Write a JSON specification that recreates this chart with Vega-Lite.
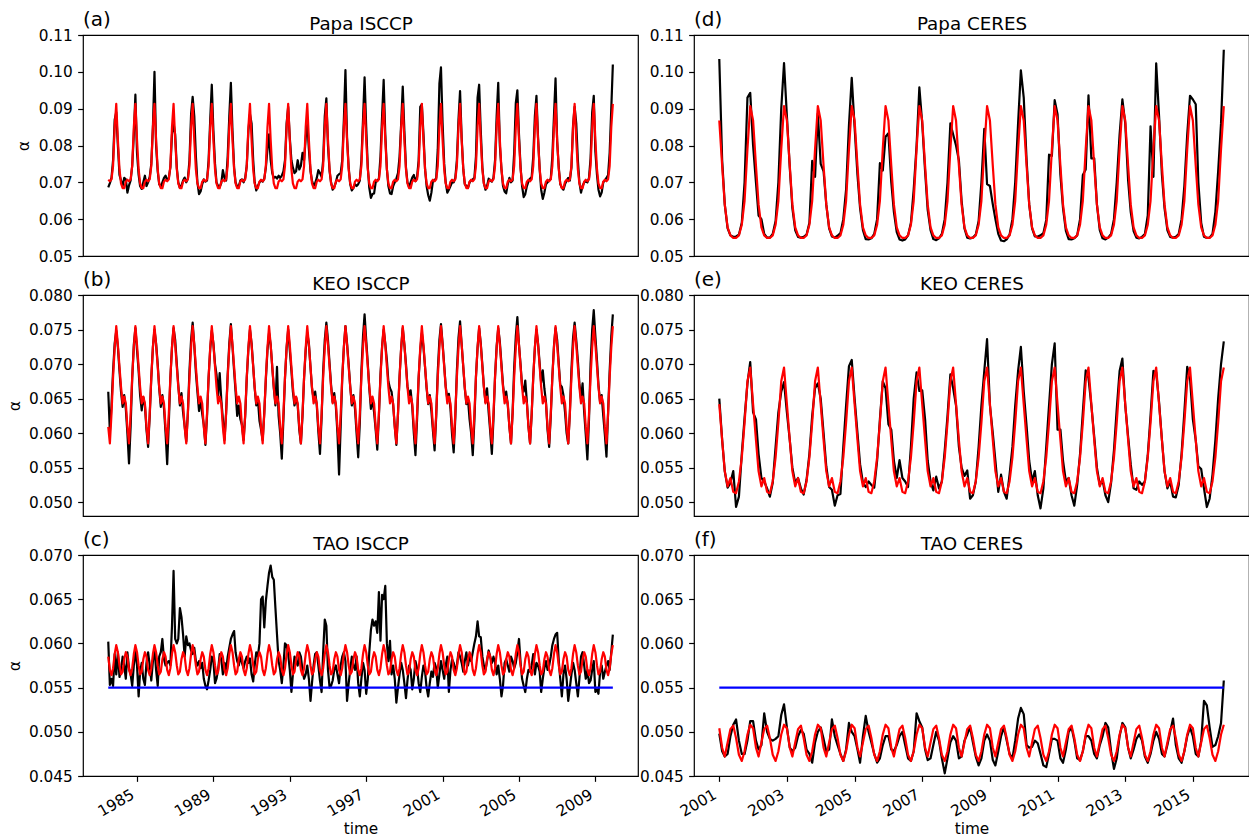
{"$schema":"https://vega.github.io/schema/vega-lite/v6.json","padding":{"left":6,"top":8,"right":0,"bottom":0},
"datasets":{
"isccp":[
{"t":"1983-07","a":0.0686,"b":0.0660,"c":0.0602,"A":0.0707,"B":0.0609,"C":0.0585},
{"t":"1983-08","a":0.0698,"b":0.0602,"c":0.0553,"A":0.0703,"B":0.0585,"C":0.0570},
{"t":"1983-09","a":0.0712,"b":0.0640,"c":0.0560,"A":0.0708,"B":0.0628,"C":0.0564},
{"t":"1983-10","a":0.0760,"b":0.0690,"c":0.0552,"A":0.0745,"B":0.0681,"C":0.0572},
{"t":"1983-11","a":0.0870,"b":0.0730,"c":0.0588,"A":0.0850,"B":0.0724,"C":0.0588},
{"t":"1983-12","a":0.0890,"b":0.0748,"c":0.0565,"A":0.0913,"B":0.0755,"C":0.0598},
{"t":"1984-01","a":0.0800,"b":0.0725,"c":0.0590,"A":0.0815,"B":0.0728,"C":0.0590},
{"t":"1984-02","a":0.0720,"b":0.0690,"c":0.0562,"A":0.0735,"B":0.0696,"C":0.0575},
{"t":"1984-03","a":0.0705,"b":0.0660,"c":0.0570,"A":0.0697,"B":0.0667,"C":0.0565},
{"t":"1984-04","a":0.0690,"b":0.0638,"c":0.0585,"A":0.0684,"B":0.0643,"C":0.0568},
{"t":"1984-05","a":0.0712,"b":0.0655,"c":0.0575,"A":0.0684,"B":0.0653,"C":0.0582},
{"t":"1984-06","a":0.0708,"b":0.0635,"c":0.0560,"A":0.0702,"B":0.0643,"C":0.0590},
{"t":"1984-07","a":0.0672,"b":0.0600,"c":0.0590,"A":0.0707,"B":0.0609,"C":0.0585},
{"t":"1984-08","a":0.0692,"b":0.0556,"c":0.0572,"A":0.0703,"B":0.0585,"C":0.0570},
{"t":"1984-09","a":0.0705,"b":0.0610,"c":0.0565,"A":0.0708,"B":0.0628,"C":0.0564},
{"t":"1984-10","a":0.0745,"b":0.0680,"c":0.0552,"A":0.0745,"B":0.0681,"C":0.0572},
{"t":"1984-11","a":0.0830,"b":0.0728,"c":0.0575,"A":0.0850,"B":0.0724,"C":0.0588},
{"t":"1984-12","a":0.0938,"b":0.0752,"c":0.0592,"A":0.0913,"B":0.0755,"C":0.0598},
{"t":"1985-01","a":0.0780,"b":0.0720,"c":0.0575,"A":0.0815,"B":0.0728,"C":0.0590},
{"t":"1985-02","a":0.0720,"b":0.0690,"c":0.0540,"A":0.0735,"B":0.0696,"C":0.0575},
{"t":"1985-03","a":0.0690,"b":0.0655,"c":0.0568,"A":0.0697,"B":0.0667,"C":0.0565},
{"t":"1985-04","a":0.0682,"b":0.0633,"c":0.0578,"A":0.0684,"B":0.0643,"C":0.0568},
{"t":"1985-05","a":0.0700,"b":0.0652,"c":0.0560,"A":0.0684,"B":0.0653,"C":0.0582},
{"t":"1985-06","a":0.0718,"b":0.0640,"c":0.0553,"A":0.0702,"B":0.0643,"C":0.0590},
{"t":"1985-07","a":0.0690,"b":0.0605,"c":0.0578,"A":0.0707,"B":0.0609,"C":0.0585},
{"t":"1985-08","a":0.0700,"b":0.0580,"c":0.0590,"A":0.0703,"B":0.0585,"C":0.0570},
{"t":"1985-09","a":0.0715,"b":0.0625,"c":0.0575,"A":0.0708,"B":0.0628,"C":0.0564},
{"t":"1985-10","a":0.0750,"b":0.0680,"c":0.0558,"A":0.0745,"B":0.0681,"C":0.0572},
{"t":"1985-11","a":0.0850,"b":0.0725,"c":0.0580,"A":0.0850,"B":0.0724,"C":0.0588},
{"t":"1985-12","a":0.1000,"b":0.0750,"c":0.0595,"A":0.0913,"B":0.0755,"C":0.0598},
{"t":"1986-01","a":0.0800,"b":0.0730,"c":0.0570,"A":0.0815,"B":0.0728,"C":0.0590},
{"t":"1986-02","a":0.0730,"b":0.0700,"c":0.0552,"A":0.0735,"B":0.0696,"C":0.0575},
{"t":"1986-03","a":0.0695,"b":0.0665,"c":0.0585,"A":0.0697,"B":0.0667,"C":0.0565},
{"t":"1986-04","a":0.0688,"b":0.0638,"c":0.0590,"A":0.0684,"B":0.0643,"C":0.0568},
{"t":"1986-05","a":0.0700,"b":0.0655,"c":0.0605,"A":0.0684,"B":0.0653,"C":0.0582},
{"t":"1986-06","a":0.0712,"b":0.0636,"c":0.0582,"A":0.0702,"B":0.0643,"C":0.0590},
{"t":"1986-07","a":0.0718,"b":0.0600,"c":0.0575,"A":0.0707,"B":0.0609,"C":0.0585},
{"t":"1986-08","a":0.0705,"b":0.0555,"c":0.0578,"A":0.0703,"B":0.0585,"C":0.0570},
{"t":"1986-09","a":0.0712,"b":0.0615,"c":0.0580,"A":0.0708,"B":0.0628,"C":0.0564},
{"t":"1986-10","a":0.0740,"b":0.0680,"c":0.0575,"A":0.0745,"B":0.0681,"C":0.0572},
{"t":"1986-11","a":0.0830,"b":0.0725,"c":0.0620,"A":0.0850,"B":0.0724,"C":0.0588},
{"t":"1986-12","a":0.0860,"b":0.0752,"c":0.0682,"A":0.0913,"B":0.0755,"C":0.0598},
{"t":"1987-01","a":0.0830,"b":0.0735,"c":0.0605,"A":0.0815,"B":0.0728,"C":0.0590},
{"t":"1987-02","a":0.0740,"b":0.0700,"c":0.0600,"A":0.0735,"B":0.0696,"C":0.0575},
{"t":"1987-03","a":0.0700,"b":0.0670,"c":0.0605,"A":0.0697,"B":0.0667,"C":0.0565},
{"t":"1987-04","a":0.0685,"b":0.0640,"c":0.0640,"A":0.0684,"B":0.0643,"C":0.0568},
{"t":"1987-05","a":0.0692,"b":0.0658,"c":0.0630,"A":0.0684,"B":0.0653,"C":0.0582},
{"t":"1987-06","a":0.0705,"b":0.0630,"c":0.0610,"A":0.0702,"B":0.0643,"C":0.0590},
{"t":"1987-07","a":0.0713,"b":0.0610,"c":0.0585,"A":0.0707,"B":0.0609,"C":0.0585},
{"t":"1987-08","a":0.0700,"b":0.0588,"c":0.0608,"A":0.0703,"B":0.0585,"C":0.0570},
{"t":"1987-09","a":0.0710,"b":0.0630,"c":0.0598,"A":0.0708,"B":0.0628,"C":0.0564},
{"t":"1987-10","a":0.0760,"b":0.0690,"c":0.0600,"A":0.0745,"B":0.0681,"C":0.0572},
{"t":"1987-11","a":0.0885,"b":0.0735,"c":0.0592,"A":0.0850,"B":0.0724,"C":0.0588},
{"t":"1987-12","a":0.0932,"b":0.0760,"c":0.0588,"A":0.0913,"B":0.0755,"C":0.0598},
{"t":"1988-01","a":0.0880,"b":0.0728,"c":0.0595,"A":0.0815,"B":0.0728,"C":0.0590},
{"t":"1988-02","a":0.0770,"b":0.0688,"c":0.0580,"A":0.0735,"B":0.0696,"C":0.0575},
{"t":"1988-03","a":0.0700,"b":0.0660,"c":0.0575,"A":0.0697,"B":0.0667,"C":0.0565},
{"t":"1988-04","a":0.0668,"b":0.0632,"c":0.0580,"A":0.0684,"B":0.0643,"C":0.0568},
{"t":"1988-05","a":0.0675,"b":0.0650,"c":0.0572,"A":0.0684,"B":0.0653,"C":0.0582},
{"t":"1988-06","a":0.0695,"b":0.0628,"c":0.0578,"A":0.0702,"B":0.0643,"C":0.0590},
{"t":"1988-07","a":0.0708,"b":0.0612,"c":0.0560,"A":0.0707,"B":0.0609,"C":0.0585},
{"t":"1988-08","a":0.0702,"b":0.0583,"c":0.0552,"A":0.0703,"B":0.0585,"C":0.0570},
{"t":"1988-09","a":0.0705,"b":0.0625,"c":0.0548,"A":0.0708,"B":0.0628,"C":0.0564},
{"t":"1988-10","a":0.0760,"b":0.0680,"c":0.0558,"A":0.0745,"B":0.0681,"C":0.0572},
{"t":"1988-11","a":0.0870,"b":0.0722,"c":0.0570,"A":0.0850,"B":0.0724,"C":0.0588},
{"t":"1988-12","a":0.0965,"b":0.0748,"c":0.0585,"A":0.0913,"B":0.0755,"C":0.0598},
{"t":"1989-01","a":0.0840,"b":0.0730,"c":0.0580,"A":0.0815,"B":0.0728,"C":0.0590},
{"t":"1989-02","a":0.0750,"b":0.0700,"c":0.0555,"A":0.0735,"B":0.0696,"C":0.0575},
{"t":"1989-03","a":0.0700,"b":0.0685,"c":0.0560,"A":0.0697,"B":0.0667,"C":0.0565},
{"t":"1989-04","a":0.0690,"b":0.0655,"c":0.0570,"A":0.0684,"B":0.0643,"C":0.0568},
{"t":"1989-05","a":0.0688,"b":0.0687,"c":0.0588,"A":0.0684,"B":0.0653,"C":0.0582},
{"t":"1989-06","a":0.0698,"b":0.0648,"c":0.0582,"A":0.0702,"B":0.0643,"C":0.0590},
{"t":"1989-07","a":0.0733,"b":0.0620,"c":0.0565,"A":0.0707,"B":0.0609,"C":0.0585},
{"t":"1989-08","a":0.0712,"b":0.0590,"c":0.0578,"A":0.0703,"B":0.0585,"C":0.0570},
{"t":"1989-09","a":0.0705,"b":0.0630,"c":0.0570,"A":0.0708,"B":0.0628,"C":0.0564},
{"t":"1989-10","a":0.0770,"b":0.0685,"c":0.0585,"A":0.0745,"B":0.0681,"C":0.0572},
{"t":"1989-11","a":0.0880,"b":0.0730,"c":0.0595,"A":0.0850,"B":0.0724,"C":0.0588},
{"t":"1989-12","a":0.0970,"b":0.0758,"c":0.0605,"A":0.0913,"B":0.0755,"C":0.0598},
{"t":"1990-01","a":0.0840,"b":0.0725,"c":0.0610,"A":0.0815,"B":0.0728,"C":0.0590},
{"t":"1990-02","a":0.0740,"b":0.0690,"c":0.0614,"A":0.0735,"B":0.0696,"C":0.0575},
{"t":"1990-03","a":0.0700,"b":0.0660,"c":0.0590,"A":0.0697,"B":0.0667,"C":0.0565},
{"t":"1990-04","a":0.0688,"b":0.0625,"c":0.0580,"A":0.0684,"B":0.0643,"C":0.0568},
{"t":"1990-05","a":0.0690,"b":0.0640,"c":0.0575,"A":0.0684,"B":0.0653,"C":0.0582},
{"t":"1990-06","a":0.0705,"b":0.0620,"c":0.0585,"A":0.0702,"B":0.0643,"C":0.0590},
{"t":"1990-07","a":0.0708,"b":0.0612,"c":0.0578,"A":0.0707,"B":0.0609,"C":0.0585},
{"t":"1990-08","a":0.0700,"b":0.0590,"c":0.0572,"A":0.0703,"B":0.0585,"C":0.0570},
{"t":"1990-09","a":0.0712,"b":0.0625,"c":0.0580,"A":0.0708,"B":0.0628,"C":0.0564},
{"t":"1990-10","a":0.0745,"b":0.0680,"c":0.0585,"A":0.0745,"B":0.0681,"C":0.0572},
{"t":"1990-11","a":0.0840,"b":0.0722,"c":0.0578,"A":0.0850,"B":0.0724,"C":0.0588},
{"t":"1990-12","a":0.0885,"b":0.0750,"c":0.0583,"A":0.0913,"B":0.0755,"C":0.0598},
{"t":"1991-01","a":0.0860,"b":0.0730,"c":0.0565,"A":0.0815,"B":0.0728,"C":0.0590},
{"t":"1991-02","a":0.0760,"b":0.0697,"c":0.0557,"A":0.0735,"B":0.0696,"C":0.0575},
{"t":"1991-03","a":0.0700,"b":0.0665,"c":0.0575,"A":0.0697,"B":0.0667,"C":0.0565},
{"t":"1991-04","a":0.0678,"b":0.0640,"c":0.0590,"A":0.0684,"B":0.0643,"C":0.0568},
{"t":"1991-05","a":0.0690,"b":0.0650,"c":0.0585,"A":0.0684,"B":0.0653,"C":0.0582},
{"t":"1991-06","a":0.0700,"b":0.0618,"c":0.0600,"A":0.0702,"B":0.0643,"C":0.0590},
{"t":"1991-07","a":0.0705,"b":0.0605,"c":0.0650,"A":0.0707,"B":0.0609,"C":0.0585},
{"t":"1991-08","a":0.0702,"b":0.0590,"c":0.0653,"A":0.0703,"B":0.0585,"C":0.0570},
{"t":"1991-09","a":0.0710,"b":0.0630,"c":0.0618,"A":0.0708,"B":0.0628,"C":0.0564},
{"t":"1991-10","a":0.0740,"b":0.0678,"c":0.0648,"A":0.0745,"B":0.0681,"C":0.0572},
{"t":"1991-11","a":0.0790,"b":0.0720,"c":0.0665,"A":0.0850,"B":0.0724,"C":0.0588},
{"t":"1991-12","a":0.0830,"b":0.0745,"c":0.0680,"A":0.0913,"B":0.0755,"C":0.0598},
{"t":"1992-01","a":0.0760,"b":0.0728,"c":0.0688,"A":0.0815,"B":0.0728,"C":0.0590},
{"t":"1992-02","a":0.0725,"b":0.0695,"c":0.0675,"A":0.0735,"B":0.0696,"C":0.0575},
{"t":"1992-03","a":0.0712,"b":0.0665,"c":0.0672,"A":0.0697,"B":0.0667,"C":0.0565},
{"t":"1992-04","a":0.0715,"b":0.0640,"c":0.0640,"A":0.0684,"B":0.0643,"C":0.0568},
{"t":"1992-05","a":0.0710,"b":0.0696,"c":0.0610,"A":0.0684,"B":0.0653,"C":0.0582},
{"t":"1992-06","a":0.0718,"b":0.0625,"c":0.0580,"A":0.0702,"B":0.0643,"C":0.0590},
{"t":"1992-07","a":0.0712,"b":0.0600,"c":0.0570,"A":0.0707,"B":0.0609,"C":0.0585},
{"t":"1992-08","a":0.0718,"b":0.0563,"c":0.0555,"A":0.0703,"B":0.0585,"C":0.0570},
{"t":"1992-09","a":0.0730,"b":0.0620,"c":0.0575,"A":0.0708,"B":0.0628,"C":0.0564},
{"t":"1992-10","a":0.0760,"b":0.0680,"c":0.0600,"A":0.0745,"B":0.0681,"C":0.0572},
{"t":"1992-11","a":0.0860,"b":0.0724,"c":0.0598,"A":0.0850,"B":0.0724,"C":0.0588},
{"t":"1992-12","a":0.0905,"b":0.0750,"c":0.0588,"A":0.0913,"B":0.0755,"C":0.0598},
{"t":"1993-01","a":0.0820,"b":0.0720,"c":0.0570,"A":0.0815,"B":0.0728,"C":0.0590},
{"t":"1993-02","a":0.0760,"b":0.0690,"c":0.0545,"A":0.0735,"B":0.0696,"C":0.0575},
{"t":"1993-03","a":0.0740,"b":0.0660,"c":0.0565,"A":0.0697,"B":0.0667,"C":0.0565},
{"t":"1993-04","a":0.0725,"b":0.0640,"c":0.0585,"A":0.0684,"B":0.0643,"C":0.0568},
{"t":"1993-05","a":0.0730,"b":0.0652,"c":0.0580,"A":0.0684,"B":0.0653,"C":0.0582},
{"t":"1993-06","a":0.0760,"b":0.0640,"c":0.0575,"A":0.0702,"B":0.0643,"C":0.0590},
{"t":"1993-07","a":0.0735,"b":0.0605,"c":0.0590,"A":0.0707,"B":0.0609,"C":0.0585},
{"t":"1993-08","a":0.0745,"b":0.0585,"c":0.0585,"A":0.0703,"B":0.0585,"C":0.0570},
{"t":"1993-09","a":0.0780,"b":0.0625,"c":0.0570,"A":0.0708,"B":0.0628,"C":0.0564},
{"t":"1993-10","a":0.0760,"b":0.0680,"c":0.0560,"A":0.0745,"B":0.0681,"C":0.0572},
{"t":"1993-11","a":0.0820,"b":0.0720,"c":0.0565,"A":0.0850,"B":0.0724,"C":0.0588},
{"t":"1993-12","a":0.0865,"b":0.0745,"c":0.0575,"A":0.0913,"B":0.0755,"C":0.0598},
{"t":"1994-01","a":0.0790,"b":0.0730,"c":0.0560,"A":0.0815,"B":0.0728,"C":0.0590},
{"t":"1994-02","a":0.0730,"b":0.0695,"c":0.0535,"A":0.0735,"B":0.0696,"C":0.0575},
{"t":"1994-03","a":0.0705,"b":0.0665,"c":0.0555,"A":0.0697,"B":0.0667,"C":0.0565},
{"t":"1994-04","a":0.0690,"b":0.0650,"c":0.0575,"A":0.0684,"B":0.0643,"C":0.0568},
{"t":"1994-05","a":0.0698,"b":0.0660,"c":0.0588,"A":0.0684,"B":0.0653,"C":0.0582},
{"t":"1994-06","a":0.0712,"b":0.0640,"c":0.0590,"A":0.0702,"B":0.0643,"C":0.0590},
{"t":"1994-07","a":0.0733,"b":0.0602,"c":0.0575,"A":0.0707,"B":0.0609,"C":0.0585},
{"t":"1994-08","a":0.0725,"b":0.0570,"c":0.0558,"A":0.0703,"B":0.0585,"C":0.0570},
{"t":"1994-09","a":0.0715,"b":0.0622,"c":0.0545,"A":0.0708,"B":0.0628,"C":0.0564},
{"t":"1994-10","a":0.0760,"b":0.0690,"c":0.0590,"A":0.0745,"B":0.0681,"C":0.0572},
{"t":"1994-11","a":0.0880,"b":0.0735,"c":0.0627,"A":0.0850,"B":0.0724,"C":0.0588},
{"t":"1994-12","a":0.0928,"b":0.0760,"c":0.0620,"A":0.0913,"B":0.0755,"C":0.0598},
{"t":"1995-01","a":0.0800,"b":0.0735,"c":0.0570,"A":0.0815,"B":0.0728,"C":0.0590},
{"t":"1995-02","a":0.0730,"b":0.0700,"c":0.0550,"A":0.0735,"B":0.0696,"C":0.0575},
{"t":"1995-03","a":0.0700,"b":0.0670,"c":0.0552,"A":0.0697,"B":0.0667,"C":0.0565},
{"t":"1995-04","a":0.0680,"b":0.0645,"c":0.0558,"A":0.0684,"B":0.0643,"C":0.0568},
{"t":"1995-05","a":0.0688,"b":0.0658,"c":0.0570,"A":0.0684,"B":0.0653,"C":0.0582},
{"t":"1995-06","a":0.0700,"b":0.0638,"c":0.0575,"A":0.0702,"B":0.0643,"C":0.0590},
{"t":"1995-07","a":0.0718,"b":0.0600,"c":0.0565,"A":0.0707,"B":0.0609,"C":0.0585},
{"t":"1995-08","a":0.0722,"b":0.0540,"c":0.0555,"A":0.0703,"B":0.0585,"C":0.0570},
{"t":"1995-09","a":0.0725,"b":0.0610,"c":0.0575,"A":0.0708,"B":0.0628,"C":0.0564},
{"t":"1995-10","a":0.0760,"b":0.0680,"c":0.0585,"A":0.0745,"B":0.0681,"C":0.0572},
{"t":"1995-11","a":0.0870,"b":0.0725,"c":0.0590,"A":0.0850,"B":0.0724,"C":0.0588},
{"t":"1995-12","a":0.1005,"b":0.0755,"c":0.0580,"A":0.0913,"B":0.0755,"C":0.0598},
{"t":"1996-01","a":0.0820,"b":0.0730,"c":0.0535,"A":0.0815,"B":0.0728,"C":0.0590},
{"t":"1996-02","a":0.0740,"b":0.0699,"c":0.0555,"A":0.0735,"B":0.0696,"C":0.0575},
{"t":"1996-03","a":0.0695,"b":0.0668,"c":0.0570,"A":0.0697,"B":0.0667,"C":0.0565},
{"t":"1996-04","a":0.0678,"b":0.0640,"c":0.0585,"A":0.0684,"B":0.0643,"C":0.0568},
{"t":"1996-05","a":0.0685,"b":0.0655,"c":0.0575,"A":0.0684,"B":0.0653,"C":0.0582},
{"t":"1996-06","a":0.0695,"b":0.0635,"c":0.0570,"A":0.0702,"B":0.0643,"C":0.0590},
{"t":"1996-07","a":0.0690,"b":0.0600,"c":0.0585,"A":0.0707,"B":0.0609,"C":0.0585},
{"t":"1996-08","a":0.0695,"b":0.0565,"c":0.0555,"A":0.0703,"B":0.0585,"C":0.0570},
{"t":"1996-09","a":0.0705,"b":0.0615,"c":0.0540,"A":0.0708,"B":0.0628,"C":0.0564},
{"t":"1996-10","a":0.0760,"b":0.0690,"c":0.0560,"A":0.0745,"B":0.0681,"C":0.0572},
{"t":"1996-11","a":0.0870,"b":0.0740,"c":0.0578,"A":0.0850,"B":0.0724,"C":0.0588},
{"t":"1996-12","a":0.0985,"b":0.0772,"c":0.0570,"A":0.0913,"B":0.0755,"C":0.0598},
{"t":"1997-01","a":0.0850,"b":0.0735,"c":0.0543,"A":0.0815,"B":0.0728,"C":0.0590},
{"t":"1997-02","a":0.0740,"b":0.0700,"c":0.0560,"A":0.0735,"B":0.0696,"C":0.0575},
{"t":"1997-03","a":0.0685,"b":0.0665,"c":0.0590,"A":0.0697,"B":0.0667,"C":0.0565},
{"t":"1997-04","a":0.0658,"b":0.0635,"c":0.0615,"A":0.0684,"B":0.0643,"C":0.0568},
{"t":"1997-05","a":0.0668,"b":0.0650,"c":0.0627,"A":0.0684,"B":0.0653,"C":0.0582},
{"t":"1997-06","a":0.0670,"b":0.0630,"c":0.0620,"A":0.0702,"B":0.0643,"C":0.0590},
{"t":"1997-07","a":0.0700,"b":0.0605,"c":0.0625,"A":0.0707,"B":0.0609,"C":0.0585},
{"t":"1997-08","a":0.0705,"b":0.0576,"c":0.0612,"A":0.0703,"B":0.0585,"C":0.0570},
{"t":"1997-09","a":0.0710,"b":0.0625,"c":0.0658,"A":0.0708,"B":0.0628,"C":0.0564},
{"t":"1997-10","a":0.0770,"b":0.0685,"c":0.0603,"A":0.0745,"B":0.0681,"C":0.0572},
{"t":"1997-11","a":0.0880,"b":0.0726,"c":0.0655,"A":0.0850,"B":0.0724,"C":0.0588},
{"t":"1997-12","a":0.0978,"b":0.0750,"c":0.0650,"A":0.0913,"B":0.0755,"C":0.0598},
{"t":"1998-01","a":0.0830,"b":0.0730,"c":0.0665,"A":0.0815,"B":0.0728,"C":0.0590},
{"t":"1998-02","a":0.0735,"b":0.0705,"c":0.0600,"A":0.0735,"B":0.0696,"C":0.0575},
{"t":"1998-03","a":0.0690,"b":0.0675,"c":0.0580,"A":0.0697,"B":0.0667,"C":0.0565},
{"t":"1998-04","a":0.0670,"b":0.0665,"c":0.0603,"A":0.0684,"B":0.0643,"C":0.0568},
{"t":"1998-05","a":0.0668,"b":0.0660,"c":0.0565,"A":0.0684,"B":0.0653,"C":0.0582},
{"t":"1998-06","a":0.0690,"b":0.0640,"c":0.0575,"A":0.0702,"B":0.0643,"C":0.0590},
{"t":"1998-07","a":0.0700,"b":0.0610,"c":0.0560,"A":0.0707,"B":0.0609,"C":0.0585},
{"t":"1998-08","a":0.0710,"b":0.0583,"c":0.0533,"A":0.0703,"B":0.0585,"C":0.0570},
{"t":"1998-09","a":0.0725,"b":0.0628,"c":0.0550,"A":0.0708,"B":0.0628,"C":0.0564},
{"t":"1998-10","a":0.0770,"b":0.0682,"c":0.0565,"A":0.0745,"B":0.0681,"C":0.0572},
{"t":"1998-11","a":0.0860,"b":0.0724,"c":0.0578,"A":0.0850,"B":0.0724,"C":0.0588},
{"t":"1998-12","a":0.0960,"b":0.0752,"c":0.0570,"A":0.0913,"B":0.0755,"C":0.0598},
{"t":"1999-01","a":0.0840,"b":0.0728,"c":0.0555,"A":0.0815,"B":0.0728,"C":0.0590},
{"t":"1999-02","a":0.0740,"b":0.0700,"c":0.0538,"A":0.0735,"B":0.0696,"C":0.0575},
{"t":"1999-03","a":0.0700,"b":0.0668,"c":0.0558,"A":0.0697,"B":0.0667,"C":0.0565},
{"t":"1999-04","a":0.0688,"b":0.0655,"c":0.0575,"A":0.0684,"B":0.0643,"C":0.0568},
{"t":"1999-05","a":0.0700,"b":0.0662,"c":0.0570,"A":0.0684,"B":0.0653,"C":0.0582},
{"t":"1999-06","a":0.0713,"b":0.0638,"c":0.0548,"A":0.0702,"B":0.0643,"C":0.0590},
{"t":"1999-07","a":0.0720,"b":0.0600,"c":0.0560,"A":0.0707,"B":0.0609,"C":0.0585},
{"t":"1999-08","a":0.0703,"b":0.0568,"c":0.0580,"A":0.0703,"B":0.0585,"C":0.0570},
{"t":"1999-09","a":0.0715,"b":0.0620,"c":0.0572,"A":0.0708,"B":0.0628,"C":0.0564},
{"t":"1999-10","a":0.0760,"b":0.0680,"c":0.0555,"A":0.0745,"B":0.0681,"C":0.0572},
{"t":"1999-11","a":0.0905,"b":0.0720,"c":0.0545,"A":0.0850,"B":0.0724,"C":0.0588},
{"t":"1999-12","a":0.0912,"b":0.0745,"c":0.0562,"A":0.0913,"B":0.0755,"C":0.0598},
{"t":"2000-01","a":0.0832,"b":0.0725,"c":0.0575,"A":0.0815,"B":0.0728,"C":0.0590},
{"t":"2000-02","a":0.0735,"b":0.0695,"c":0.0568,"A":0.0735,"B":0.0696,"C":0.0575},
{"t":"2000-03","a":0.0690,"b":0.0665,"c":0.0550,"A":0.0697,"B":0.0667,"C":0.0565},
{"t":"2000-04","a":0.0665,"b":0.0642,"c":0.0540,"A":0.0684,"B":0.0643,"C":0.0568},
{"t":"2000-05","a":0.0650,"b":0.0655,"c":0.0555,"A":0.0684,"B":0.0653,"C":0.0582},
{"t":"2000-06","a":0.0672,"b":0.0632,"c":0.0568,"A":0.0702,"B":0.0643,"C":0.0590},
{"t":"2000-07","a":0.0705,"b":0.0603,"c":0.0562,"A":0.0707,"B":0.0609,"C":0.0585},
{"t":"2000-08","a":0.0705,"b":0.0575,"c":0.0578,"A":0.0703,"B":0.0585,"C":0.0570},
{"t":"2000-09","a":0.0712,"b":0.0625,"c":0.0572,"A":0.0708,"B":0.0628,"C":0.0564},
{"t":"2000-10","a":0.0790,"b":0.0690,"c":0.0550,"A":0.0745,"B":0.0681,"C":0.0572},
{"t":"2000-11","a":0.0968,"b":0.0735,"c":0.0565,"A":0.0850,"B":0.0724,"C":0.0588},
{"t":"2000-12","a":0.1012,"b":0.0758,"c":0.0580,"A":0.0913,"B":0.0755,"C":0.0598},
{"t":"2001-01","a":0.0860,"b":0.0730,"c":0.0570,"A":0.0815,"B":0.0728,"C":0.0590},
{"t":"2001-02","a":0.0750,"b":0.0698,"c":0.0560,"A":0.0735,"B":0.0696,"C":0.0575},
{"t":"2001-03","a":0.0700,"b":0.0668,"c":0.0575,"A":0.0697,"B":0.0667,"C":0.0565},
{"t":"2001-04","a":0.0672,"b":0.0650,"c":0.0585,"A":0.0684,"B":0.0643,"C":0.0568},
{"t":"2001-05","a":0.0680,"b":0.0657,"c":0.0545,"A":0.0684,"B":0.0653,"C":0.0582},
{"t":"2001-06","a":0.0690,"b":0.0635,"c":0.0570,"A":0.0702,"B":0.0643,"C":0.0590},
{"t":"2001-07","a":0.0700,"b":0.0598,"c":0.0582,"A":0.0707,"B":0.0609,"C":0.0585},
{"t":"2001-08","a":0.0700,"b":0.0572,"c":0.0578,"A":0.0703,"B":0.0585,"C":0.0570},
{"t":"2001-09","a":0.0712,"b":0.0622,"c":0.0570,"A":0.0708,"B":0.0628,"C":0.0564},
{"t":"2001-10","a":0.0760,"b":0.0690,"c":0.0575,"A":0.0745,"B":0.0681,"C":0.0572},
{"t":"2001-11","a":0.0870,"b":0.0738,"c":0.0590,"A":0.0850,"B":0.0724,"C":0.0588},
{"t":"2001-12","a":0.0948,"b":0.0762,"c":0.0585,"A":0.0913,"B":0.0755,"C":0.0598},
{"t":"2002-01","a":0.0820,"b":0.0728,"c":0.0578,"A":0.0815,"B":0.0728,"C":0.0590},
{"t":"2002-02","a":0.0735,"b":0.0695,"c":0.0568,"A":0.0735,"B":0.0696,"C":0.0575},
{"t":"2002-03","a":0.0695,"b":0.0665,"c":0.0580,"A":0.0697,"B":0.0667,"C":0.0565},
{"t":"2002-04","a":0.0690,"b":0.0642,"c":0.0590,"A":0.0684,"B":0.0643,"C":0.0568},
{"t":"2002-05","a":0.0685,"b":0.0650,"c":0.0575,"A":0.0684,"B":0.0653,"C":0.0582},
{"t":"2002-06","a":0.0700,"b":0.0620,"c":0.0585,"A":0.0702,"B":0.0643,"C":0.0590},
{"t":"2002-07","a":0.0705,"b":0.0600,"c":0.0580,"A":0.0707,"B":0.0609,"C":0.0585},
{"t":"2002-08","a":0.0708,"b":0.0568,"c":0.0590,"A":0.0703,"B":0.0585,"C":0.0570},
{"t":"2002-09","a":0.0712,"b":0.0618,"c":0.0600,"A":0.0708,"B":0.0628,"C":0.0564},
{"t":"2002-10","a":0.0770,"b":0.0682,"c":0.0608,"A":0.0745,"B":0.0681,"C":0.0572},
{"t":"2002-11","a":0.0930,"b":0.0724,"c":0.0625,"A":0.0850,"B":0.0724,"C":0.0588},
{"t":"2002-12","a":0.0965,"b":0.0752,"c":0.0608,"A":0.0913,"B":0.0755,"C":0.0598},
{"t":"2003-01","a":0.0840,"b":0.0730,"c":0.0607,"A":0.0815,"B":0.0728,"C":0.0590},
{"t":"2003-02","a":0.0740,"b":0.0698,"c":0.0585,"A":0.0735,"B":0.0696,"C":0.0575},
{"t":"2003-03","a":0.0698,"b":0.0668,"c":0.0575,"A":0.0697,"B":0.0667,"C":0.0565},
{"t":"2003-04","a":0.0680,"b":0.0645,"c":0.0570,"A":0.0684,"B":0.0643,"C":0.0568},
{"t":"2003-05","a":0.0690,"b":0.0665,"c":0.0580,"A":0.0684,"B":0.0653,"C":0.0582},
{"t":"2003-06","a":0.0710,"b":0.0630,"c":0.0592,"A":0.0702,"B":0.0643,"C":0.0590},
{"t":"2003-07","a":0.0705,"b":0.0602,"c":0.0585,"A":0.0707,"B":0.0609,"C":0.0585},
{"t":"2003-08","a":0.0702,"b":0.0570,"c":0.0578,"A":0.0703,"B":0.0585,"C":0.0570},
{"t":"2003-09","a":0.0712,"b":0.0620,"c":0.0585,"A":0.0708,"B":0.0628,"C":0.0564},
{"t":"2003-10","a":0.0760,"b":0.0682,"c":0.0578,"A":0.0745,"B":0.0681,"C":0.0572},
{"t":"2003-11","a":0.0880,"b":0.0726,"c":0.0565,"A":0.0850,"B":0.0724,"C":0.0588},
{"t":"2003-12","a":0.0970,"b":0.0752,"c":0.0575,"A":0.0913,"B":0.0755,"C":0.0598},
{"t":"2004-01","a":0.0800,"b":0.0732,"c":0.0560,"A":0.0815,"B":0.0728,"C":0.0590},
{"t":"2004-02","a":0.0735,"b":0.0700,"c":0.0540,"A":0.0735,"B":0.0696,"C":0.0575},
{"t":"2004-03","a":0.0690,"b":0.0670,"c":0.0552,"A":0.0697,"B":0.0667,"C":0.0565},
{"t":"2004-04","a":0.0675,"b":0.0650,"c":0.0578,"A":0.0684,"B":0.0643,"C":0.0568},
{"t":"2004-05","a":0.0670,"b":0.0660,"c":0.0582,"A":0.0684,"B":0.0653,"C":0.0582},
{"t":"2004-06","a":0.0695,"b":0.0640,"c":0.0575,"A":0.0702,"B":0.0643,"C":0.0590},
{"t":"2004-07","a":0.0712,"b":0.0610,"c":0.0568,"A":0.0707,"B":0.0609,"C":0.0585},
{"t":"2004-08","a":0.0700,"b":0.0585,"c":0.0585,"A":0.0703,"B":0.0585,"C":0.0570},
{"t":"2004-09","a":0.0705,"b":0.0630,"c":0.0580,"A":0.0708,"B":0.0628,"C":0.0564},
{"t":"2004-10","a":0.0780,"b":0.0695,"c":0.0572,"A":0.0745,"B":0.0681,"C":0.0572},
{"t":"2004-11","a":0.0915,"b":0.0740,"c":0.0578,"A":0.0850,"B":0.0724,"C":0.0588},
{"t":"2004-12","a":0.0950,"b":0.0768,"c":0.0590,"A":0.0913,"B":0.0755,"C":0.0598},
{"t":"2005-01","a":0.0830,"b":0.0728,"c":0.0605,"A":0.0815,"B":0.0728,"C":0.0590},
{"t":"2005-02","a":0.0740,"b":0.0698,"c":0.0578,"A":0.0735,"B":0.0696,"C":0.0575},
{"t":"2005-03","a":0.0690,"b":0.0668,"c":0.0560,"A":0.0697,"B":0.0667,"C":0.0565},
{"t":"2005-04","a":0.0660,"b":0.0660,"c":0.0552,"A":0.0684,"B":0.0643,"C":0.0568},
{"t":"2005-05","a":0.0668,"b":0.0676,"c":0.0545,"A":0.0684,"B":0.0653,"C":0.0582},
{"t":"2005-06","a":0.0690,"b":0.0645,"c":0.0560,"A":0.0702,"B":0.0643,"C":0.0590},
{"t":"2005-07","a":0.0702,"b":0.0610,"c":0.0570,"A":0.0707,"B":0.0609,"C":0.0585},
{"t":"2005-08","a":0.0710,"b":0.0585,"c":0.0568,"A":0.0703,"B":0.0585,"C":0.0570},
{"t":"2005-09","a":0.0715,"b":0.0628,"c":0.0575,"A":0.0708,"B":0.0628,"C":0.0564},
{"t":"2005-10","a":0.0770,"b":0.0682,"c":0.0588,"A":0.0745,"B":0.0681,"C":0.0572},
{"t":"2005-11","a":0.0880,"b":0.0724,"c":0.0565,"A":0.0850,"B":0.0724,"C":0.0588},
{"t":"2005-12","a":0.0935,"b":0.0750,"c":0.0578,"A":0.0913,"B":0.0755,"C":0.0598},
{"t":"2006-01","a":0.0820,"b":0.0730,"c":0.0575,"A":0.0815,"B":0.0728,"C":0.0590},
{"t":"2006-02","a":0.0735,"b":0.0700,"c":0.0568,"A":0.0735,"B":0.0696,"C":0.0575},
{"t":"2006-03","a":0.0680,"b":0.0673,"c":0.0545,"A":0.0697,"B":0.0667,"C":0.0565},
{"t":"2006-04","a":0.0655,"b":0.0691,"c":0.0560,"A":0.0684,"B":0.0643,"C":0.0568},
{"t":"2006-05","a":0.0672,"b":0.0665,"c":0.0572,"A":0.0684,"B":0.0653,"C":0.0582},
{"t":"2006-06","a":0.0695,"b":0.0645,"c":0.0580,"A":0.0702,"B":0.0643,"C":0.0590},
{"t":"2006-07","a":0.0700,"b":0.0605,"c":0.0570,"A":0.0707,"B":0.0609,"C":0.0585},
{"t":"2006-08","a":0.0705,"b":0.0580,"c":0.0575,"A":0.0703,"B":0.0585,"C":0.0570},
{"t":"2006-09","a":0.0710,"b":0.0625,"c":0.0585,"A":0.0708,"B":0.0628,"C":0.0564},
{"t":"2006-10","a":0.0770,"b":0.0682,"c":0.0598,"A":0.0745,"B":0.0681,"C":0.0572},
{"t":"2006-11","a":0.0880,"b":0.0726,"c":0.0605,"A":0.0850,"B":0.0724,"C":0.0588},
{"t":"2006-12","a":0.0982,"b":0.0752,"c":0.0610,"A":0.0913,"B":0.0755,"C":0.0598},
{"t":"2007-01","a":0.0810,"b":0.0735,"c":0.0612,"A":0.0815,"B":0.0728,"C":0.0590},
{"t":"2007-02","a":0.0740,"b":0.0700,"c":0.0580,"A":0.0735,"B":0.0696,"C":0.0575},
{"t":"2007-03","a":0.0695,"b":0.0670,"c":0.0560,"A":0.0697,"B":0.0667,"C":0.0565},
{"t":"2007-04","a":0.0685,"b":0.0667,"c":0.0540,"A":0.0684,"B":0.0643,"C":0.0568},
{"t":"2007-05","a":0.0680,"b":0.0655,"c":0.0565,"A":0.0684,"B":0.0653,"C":0.0582},
{"t":"2007-06","a":0.0695,"b":0.0630,"c":0.0575,"A":0.0702,"B":0.0643,"C":0.0590},
{"t":"2007-07","a":0.0705,"b":0.0600,"c":0.0560,"A":0.0707,"B":0.0609,"C":0.0585},
{"t":"2007-08","a":0.0712,"b":0.0585,"c":0.0535,"A":0.0703,"B":0.0585,"C":0.0570},
{"t":"2007-09","a":0.0705,"b":0.0630,"c":0.0550,"A":0.0708,"B":0.0628,"C":0.0564},
{"t":"2007-10","a":0.0740,"b":0.0692,"c":0.0565,"A":0.0745,"B":0.0681,"C":0.0572},
{"t":"2007-11","a":0.0855,"b":0.0738,"c":0.0578,"A":0.0850,"B":0.0724,"C":0.0588},
{"t":"2007-12","a":0.0905,"b":0.0760,"c":0.0570,"A":0.0913,"B":0.0755,"C":0.0598},
{"t":"2008-01","a":0.0860,"b":0.0735,"c":0.0555,"A":0.0815,"B":0.0728,"C":0.0590},
{"t":"2008-02","a":0.0760,"b":0.0705,"c":0.0540,"A":0.0735,"B":0.0696,"C":0.0575},
{"t":"2008-03","a":0.0700,"b":0.0672,"c":0.0560,"A":0.0697,"B":0.0667,"C":0.0565},
{"t":"2008-04","a":0.0672,"b":0.0650,"c":0.0585,"A":0.0684,"B":0.0643,"C":0.0568},
{"t":"2008-05","a":0.0690,"b":0.0672,"c":0.0590,"A":0.0684,"B":0.0653,"C":0.0582},
{"t":"2008-06","a":0.0700,"b":0.0630,"c":0.0575,"A":0.0702,"B":0.0643,"C":0.0590},
{"t":"2008-07","a":0.0703,"b":0.0598,"c":0.0560,"A":0.0707,"B":0.0609,"C":0.0585},
{"t":"2008-08","a":0.0700,"b":0.0562,"c":0.0570,"A":0.0703,"B":0.0585,"C":0.0570},
{"t":"2008-09","a":0.0712,"b":0.0620,"c":0.0555,"A":0.0708,"B":0.0628,"C":0.0564},
{"t":"2008-10","a":0.0765,"b":0.0700,"c":0.0558,"A":0.0745,"B":0.0681,"C":0.0572},
{"t":"2008-11","a":0.0890,"b":0.0750,"c":0.0570,"A":0.0850,"B":0.0724,"C":0.0588},
{"t":"2008-12","a":0.0935,"b":0.0778,"c":0.0580,"A":0.0913,"B":0.0755,"C":0.0598},
{"t":"2009-01","a":0.0783,"b":0.0740,"c":0.0545,"A":0.0815,"B":0.0728,"C":0.0590},
{"t":"2009-02","a":0.0720,"b":0.0705,"c":0.0548,"A":0.0735,"B":0.0696,"C":0.0575},
{"t":"2009-03","a":0.0680,"b":0.0670,"c":0.0543,"A":0.0697,"B":0.0667,"C":0.0565},
{"t":"2009-04","a":0.0662,"b":0.0645,"c":0.0568,"A":0.0684,"B":0.0643,"C":0.0568},
{"t":"2009-05","a":0.0672,"b":0.0655,"c":0.0575,"A":0.0684,"B":0.0653,"C":0.0582},
{"t":"2009-06","a":0.0700,"b":0.0625,"c":0.0560,"A":0.0702,"B":0.0643,"C":0.0590},
{"t":"2009-07","a":0.0705,"b":0.0598,"c":0.0568,"A":0.0707,"B":0.0609,"C":0.0585},
{"t":"2009-08","a":0.0712,"b":0.0566,"c":0.0575,"A":0.0703,"B":0.0585,"C":0.0570},
{"t":"2009-09","a":0.0720,"b":0.0630,"c":0.0580,"A":0.0708,"B":0.0628,"C":0.0564},
{"t":"2009-10","a":0.0780,"b":0.0690,"c":0.0570,"A":0.0745,"B":0.0681,"C":0.0572},
{"t":"2009-11","a":0.0900,"b":0.0740,"c":0.0590,"A":0.0850,"B":0.0724,"C":0.0588},
{"t":"2009-12","a":0.1020,"b":0.0772,"c":0.0610,"A":0.0913,"B":0.0755,"C":0.0598}
],
"ceres":[
{"t":"2001-01","d":0.1035,"e":0.0650,"f":0.0498,"D":0.0868,"E":0.0642,"F":0.0504},
{"t":"2001-02","d":0.0760,"e":0.0590,"f":0.0478,"D":0.0745,"E":0.0590,"F":0.0482},
{"t":"2001-03","d":0.0640,"e":0.0545,"f":0.0472,"D":0.0640,"E":0.0545,"F":0.0472},
{"t":"2001-04","d":0.0575,"e":0.0521,"f":0.0475,"D":0.0578,"E":0.0523,"F":0.0488},
{"t":"2001-05","d":0.0556,"e":0.0528,"f":0.0495,"D":0.0556,"E":0.0535,"F":0.0503},
{"t":"2001-06","d":0.0552,"e":0.0545,"f":0.0508,"D":0.0549,"E":0.0515,"F":0.0507},
{"t":"2001-07","d":0.0553,"e":0.0493,"f":0.0514,"D":0.0549,"E":0.0513,"F":0.0493},
{"t":"2001-08","d":0.0558,"e":0.0508,"f":0.0490,"D":0.0556,"E":0.0530,"F":0.0474},
{"t":"2001-09","d":0.0590,"e":0.0570,"f":0.0475,"D":0.0585,"E":0.0565,"F":0.0467},
{"t":"2001-10","d":0.0700,"e":0.0622,"f":0.0475,"D":0.0650,"E":0.0615,"F":0.0478},
{"t":"2001-11","d":0.0930,"e":0.0672,"f":0.0490,"D":0.0790,"E":0.0675,"F":0.0497},
{"t":"2001-12","d":0.0943,"e":0.0703,"f":0.0512,"D":0.0907,"E":0.0695,"F":0.0508},
{"t":"2002-01","d":0.0800,"e":0.0630,"f":0.0512,"D":0.0868,"E":0.0642,"F":0.0504},
{"t":"2002-02","d":0.0700,"e":0.0620,"f":0.0490,"D":0.0745,"E":0.0590,"F":0.0482},
{"t":"2002-03","d":0.0610,"e":0.0570,"f":0.0480,"D":0.0640,"E":0.0545,"F":0.0472},
{"t":"2002-04","d":0.0600,"e":0.0535,"f":0.0485,"D":0.0578,"E":0.0523,"F":0.0488},
{"t":"2002-05","d":0.0560,"e":0.0530,"f":0.0521,"D":0.0556,"E":0.0535,"F":0.0503},
{"t":"2002-06","d":0.0550,"e":0.0520,"f":0.0500,"D":0.0549,"E":0.0515,"F":0.0507},
{"t":"2002-07","d":0.0550,"e":0.0508,"f":0.0492,"D":0.0549,"E":0.0513,"F":0.0493},
{"t":"2002-08","d":0.0560,"e":0.0528,"f":0.0490,"D":0.0556,"E":0.0530,"F":0.0474},
{"t":"2002-09","d":0.0595,"e":0.0580,"f":0.0492,"D":0.0585,"E":0.0565,"F":0.0467},
{"t":"2002-10","d":0.0700,"e":0.0630,"f":0.0495,"D":0.0650,"E":0.0615,"F":0.0478},
{"t":"2002-11","d":0.0900,"e":0.0660,"f":0.0519,"D":0.0790,"E":0.0675,"F":0.0497},
{"t":"2002-12","d":0.1024,"e":0.0674,"f":0.0531,"D":0.0907,"E":0.0695,"F":0.0508},
{"t":"2003-01","d":0.0880,"e":0.0630,"f":0.0505,"D":0.0868,"E":0.0642,"F":0.0504},
{"t":"2003-02","d":0.0740,"e":0.0590,"f":0.0482,"D":0.0745,"E":0.0590,"F":0.0482},
{"t":"2003-03","d":0.0630,"e":0.0550,"f":0.0478,"D":0.0640,"E":0.0545,"F":0.0472},
{"t":"2003-04","d":0.0570,"e":0.0528,"f":0.0482,"D":0.0578,"E":0.0523,"F":0.0488},
{"t":"2003-05","d":0.0552,"e":0.0535,"f":0.0495,"D":0.0556,"E":0.0535,"F":0.0503},
{"t":"2003-06","d":0.0550,"e":0.0520,"f":0.0502,"D":0.0549,"E":0.0515,"F":0.0507},
{"t":"2003-07","d":0.0552,"e":0.0511,"f":0.0498,"D":0.0549,"E":0.0513,"F":0.0493},
{"t":"2003-08","d":0.0558,"e":0.0532,"f":0.0480,"D":0.0556,"E":0.0530,"F":0.0474},
{"t":"2003-09","d":0.0590,"e":0.0570,"f":0.0475,"D":0.0585,"E":0.0565,"F":0.0467},
{"t":"2003-10","d":0.0758,"e":0.0625,"f":0.0465,"D":0.0650,"E":0.0615,"F":0.0478},
{"t":"2003-11","d":0.0715,"e":0.0665,"f":0.0488,"D":0.0790,"E":0.0675,"F":0.0497},
{"t":"2003-12","d":0.0887,"e":0.0672,"f":0.0500,"D":0.0907,"E":0.0695,"F":0.0508},
{"t":"2004-01","d":0.0750,"e":0.0650,"f":0.0505,"D":0.0868,"E":0.0642,"F":0.0504},
{"t":"2004-02","d":0.0730,"e":0.0600,"f":0.0492,"D":0.0745,"E":0.0590,"F":0.0482},
{"t":"2004-03","d":0.0640,"e":0.0552,"f":0.0478,"D":0.0640,"E":0.0545,"F":0.0472},
{"t":"2004-04","d":0.0575,"e":0.0522,"f":0.0480,"D":0.0578,"E":0.0523,"F":0.0488},
{"t":"2004-05","d":0.0553,"e":0.0518,"f":0.0514,"D":0.0556,"E":0.0535,"F":0.0503},
{"t":"2004-06","d":0.0550,"e":0.0495,"f":0.0495,"D":0.0549,"E":0.0515,"F":0.0507},
{"t":"2004-07","d":0.0555,"e":0.0510,"f":0.0485,"D":0.0549,"E":0.0513,"F":0.0493},
{"t":"2004-08","d":0.0562,"e":0.0512,"f":0.0475,"D":0.0556,"E":0.0530,"F":0.0474},
{"t":"2004-09","d":0.0600,"e":0.0580,"f":0.0467,"D":0.0585,"E":0.0565,"F":0.0467},
{"t":"2004-10","d":0.0680,"e":0.0640,"f":0.0480,"D":0.0650,"E":0.0615,"F":0.0478},
{"t":"2004-11","d":0.0855,"e":0.0697,"f":0.0510,"D":0.0790,"E":0.0675,"F":0.0497},
{"t":"2004-12","d":0.0984,"e":0.0706,"f":0.0500,"D":0.0907,"E":0.0695,"F":0.0508},
{"t":"2005-01","d":0.0850,"e":0.0650,"f":0.0495,"D":0.0868,"E":0.0642,"F":0.0504},
{"t":"2005-02","d":0.0720,"e":0.0600,"f":0.0480,"D":0.0745,"E":0.0590,"F":0.0482},
{"t":"2005-03","d":0.0630,"e":0.0555,"f":0.0465,"D":0.0640,"E":0.0545,"F":0.0472},
{"t":"2005-04","d":0.0570,"e":0.0528,"f":0.0495,"D":0.0578,"E":0.0523,"F":0.0488},
{"t":"2005-05","d":0.0546,"e":0.0522,"f":0.0518,"D":0.0556,"E":0.0535,"F":0.0503},
{"t":"2005-06","d":0.0545,"e":0.0530,"f":0.0500,"D":0.0549,"E":0.0515,"F":0.0507},
{"t":"2005-07","d":0.0548,"e":0.0525,"f":0.0488,"D":0.0549,"E":0.0513,"F":0.0493},
{"t":"2005-08","d":0.0560,"e":0.0521,"f":0.0475,"D":0.0556,"E":0.0530,"F":0.0474},
{"t":"2005-09","d":0.0600,"e":0.0560,"f":0.0465,"D":0.0585,"E":0.0565,"F":0.0467},
{"t":"2005-10","d":0.0752,"e":0.0620,"f":0.0470,"D":0.0650,"E":0.0615,"F":0.0478},
{"t":"2005-11","d":0.0732,"e":0.0675,"f":0.0485,"D":0.0790,"E":0.0675,"F":0.0497},
{"t":"2005-12","d":0.0824,"e":0.0665,"f":0.0495,"D":0.0907,"E":0.0695,"F":0.0508},
{"t":"2006-01","d":0.0833,"e":0.0613,"f":0.0495,"D":0.0868,"E":0.0642,"F":0.0504},
{"t":"2006-02","d":0.0700,"e":0.0605,"f":0.0480,"D":0.0745,"E":0.0590,"F":0.0482},
{"t":"2006-03","d":0.0620,"e":0.0560,"f":0.0478,"D":0.0640,"E":0.0545,"F":0.0472},
{"t":"2006-04","d":0.0565,"e":0.0535,"f":0.0485,"D":0.0578,"E":0.0523,"F":0.0488},
{"t":"2006-05","d":0.0545,"e":0.0561,"f":0.0495,"D":0.0556,"E":0.0535,"F":0.0503},
{"t":"2006-06","d":0.0542,"e":0.0535,"f":0.0500,"D":0.0549,"E":0.0515,"F":0.0507},
{"t":"2006-07","d":0.0545,"e":0.0530,"f":0.0485,"D":0.0549,"E":0.0513,"F":0.0493},
{"t":"2006-08","d":0.0556,"e":0.0522,"f":0.0470,"D":0.0556,"E":0.0530,"F":0.0474},
{"t":"2006-09","d":0.0590,"e":0.0580,"f":0.0467,"D":0.0585,"E":0.0565,"F":0.0467},
{"t":"2006-10","d":0.0680,"e":0.0650,"f":0.0478,"D":0.0650,"E":0.0615,"F":0.0478},
{"t":"2006-11","d":0.0800,"e":0.0688,"f":0.0521,"D":0.0790,"E":0.0675,"F":0.0497},
{"t":"2006-12","d":0.0958,"e":0.0661,"f":0.0512,"D":0.0907,"E":0.0695,"F":0.0508},
{"t":"2007-01","d":0.0860,"e":0.0662,"f":0.0505,"D":0.0868,"E":0.0642,"F":0.0504},
{"t":"2007-02","d":0.0730,"e":0.0620,"f":0.0480,"D":0.0745,"E":0.0590,"F":0.0482},
{"t":"2007-03","d":0.0625,"e":0.0560,"f":0.0468,"D":0.0640,"E":0.0545,"F":0.0472},
{"t":"2007-04","d":0.0570,"e":0.0530,"f":0.0470,"D":0.0578,"E":0.0523,"F":0.0488},
{"t":"2007-05","d":0.0546,"e":0.0517,"f":0.0485,"D":0.0556,"E":0.0535,"F":0.0503},
{"t":"2007-06","d":0.0543,"e":0.0537,"f":0.0500,"D":0.0549,"E":0.0515,"F":0.0507},
{"t":"2007-07","d":0.0548,"e":0.0520,"f":0.0490,"D":0.0549,"E":0.0513,"F":0.0493},
{"t":"2007-08","d":0.0560,"e":0.0530,"f":0.0470,"D":0.0556,"E":0.0530,"F":0.0474},
{"t":"2007-09","d":0.0600,"e":0.0575,"f":0.0453,"D":0.0585,"E":0.0565,"F":0.0467},
{"t":"2007-10","d":0.0700,"e":0.0625,"f":0.0470,"D":0.0650,"E":0.0615,"F":0.0478},
{"t":"2007-11","d":0.0860,"e":0.0685,"f":0.0488,"D":0.0790,"E":0.0675,"F":0.0497},
{"t":"2007-12","d":0.0830,"e":0.0665,"f":0.0495,"D":0.0907,"E":0.0695,"F":0.0508},
{"t":"2008-01","d":0.0800,"e":0.0640,"f":0.0490,"D":0.0868,"E":0.0642,"F":0.0504},
{"t":"2008-02","d":0.0760,"e":0.0580,"f":0.0470,"D":0.0745,"E":0.0590,"F":0.0482},
{"t":"2008-03","d":0.0650,"e":0.0550,"f":0.0472,"D":0.0640,"E":0.0545,"F":0.0472},
{"t":"2008-04","d":0.0575,"e":0.0538,"f":0.0490,"D":0.0578,"E":0.0523,"F":0.0488},
{"t":"2008-05","d":0.0550,"e":0.0546,"f":0.0497,"D":0.0556,"E":0.0535,"F":0.0503},
{"t":"2008-06","d":0.0548,"e":0.0505,"f":0.0505,"D":0.0549,"E":0.0515,"F":0.0507},
{"t":"2008-07","d":0.0550,"e":0.0510,"f":0.0488,"D":0.0549,"E":0.0513,"F":0.0493},
{"t":"2008-08","d":0.0558,"e":0.0530,"f":0.0472,"D":0.0556,"E":0.0530,"F":0.0474},
{"t":"2008-09","d":0.0595,"e":0.0580,"f":0.0462,"D":0.0585,"E":0.0565,"F":0.0467},
{"t":"2008-10","d":0.0700,"e":0.0640,"f":0.0470,"D":0.0650,"E":0.0615,"F":0.0478},
{"t":"2008-11","d":0.0845,"e":0.0690,"f":0.0490,"D":0.0790,"E":0.0675,"F":0.0497},
{"t":"2008-12","d":0.0695,"e":0.0736,"f":0.0497,"D":0.0907,"E":0.0695,"F":0.0508},
{"t":"2009-01","d":0.0690,"e":0.0640,"f":0.0490,"D":0.0868,"E":0.0642,"F":0.0504},
{"t":"2009-02","d":0.0640,"e":0.0600,"f":0.0468,"D":0.0745,"E":0.0590,"F":0.0482},
{"t":"2009-03","d":0.0600,"e":0.0560,"f":0.0462,"D":0.0640,"E":0.0545,"F":0.0472},
{"t":"2009-04","d":0.0560,"e":0.0515,"f":0.0478,"D":0.0578,"E":0.0523,"F":0.0488},
{"t":"2009-05","d":0.0542,"e":0.0540,"f":0.0495,"D":0.0556,"E":0.0535,"F":0.0503},
{"t":"2009-06","d":0.0540,"e":0.0515,"f":0.0505,"D":0.0549,"E":0.0515,"F":0.0507},
{"t":"2009-07","d":0.0545,"e":0.0505,"f":0.0490,"D":0.0549,"E":0.0513,"F":0.0493},
{"t":"2009-08","d":0.0558,"e":0.0540,"f":0.0475,"D":0.0556,"E":0.0530,"F":0.0474},
{"t":"2009-09","d":0.0600,"e":0.0580,"f":0.0470,"D":0.0585,"E":0.0565,"F":0.0467},
{"t":"2009-10","d":0.0700,"e":0.0640,"f":0.0490,"D":0.0650,"E":0.0615,"F":0.0478},
{"t":"2009-11","d":0.0860,"e":0.0690,"f":0.0515,"D":0.0790,"E":0.0675,"F":0.0497},
{"t":"2009-12","d":0.1004,"e":0.0725,"f":0.0527,"D":0.0907,"E":0.0695,"F":0.0508},
{"t":"2010-01","d":0.0930,"e":0.0660,"f":0.0520,"D":0.0868,"E":0.0642,"F":0.0504},
{"t":"2010-02","d":0.0760,"e":0.0610,"f":0.0485,"D":0.0745,"E":0.0590,"F":0.0482},
{"t":"2010-03","d":0.0640,"e":0.0560,"f":0.0482,"D":0.0640,"E":0.0545,"F":0.0472},
{"t":"2010-04","d":0.0575,"e":0.0530,"f":0.0483,"D":0.0578,"E":0.0523,"F":0.0488},
{"t":"2010-05","d":0.0553,"e":0.0545,"f":0.0490,"D":0.0556,"E":0.0535,"F":0.0503},
{"t":"2010-06","d":0.0553,"e":0.0510,"f":0.0487,"D":0.0549,"E":0.0515,"F":0.0507},
{"t":"2010-07","d":0.0556,"e":0.0491,"f":0.0475,"D":0.0549,"E":0.0513,"F":0.0493},
{"t":"2010-08","d":0.0562,"e":0.0520,"f":0.0462,"D":0.0556,"E":0.0530,"F":0.0474},
{"t":"2010-09","d":0.0598,"e":0.0580,"f":0.0460,"D":0.0585,"E":0.0565,"F":0.0467},
{"t":"2010-10","d":0.0775,"e":0.0640,"f":0.0475,"D":0.0650,"E":0.0615,"F":0.0478},
{"t":"2010-11","d":0.0772,"e":0.0700,"f":0.0492,"D":0.0790,"E":0.0675,"F":0.0497},
{"t":"2010-12","d":0.0923,"e":0.0730,"f":0.0492,"D":0.0907,"E":0.0695,"F":0.0508},
{"t":"2011-01","d":0.0885,"e":0.0605,"f":0.0490,"D":0.0868,"E":0.0642,"F":0.0504},
{"t":"2011-02","d":0.0720,"e":0.0605,"f":0.0470,"D":0.0745,"E":0.0590,"F":0.0482},
{"t":"2011-03","d":0.0630,"e":0.0560,"f":0.0465,"D":0.0640,"E":0.0545,"F":0.0472},
{"t":"2011-04","d":0.0568,"e":0.0530,"f":0.0480,"D":0.0578,"E":0.0523,"F":0.0488},
{"t":"2011-05","d":0.0546,"e":0.0535,"f":0.0500,"D":0.0556,"E":0.0535,"F":0.0503},
{"t":"2011-06","d":0.0545,"e":0.0510,"f":0.0505,"D":0.0549,"E":0.0515,"F":0.0507},
{"t":"2011-07","d":0.0548,"e":0.0495,"f":0.0490,"D":0.0549,"E":0.0513,"F":0.0493},
{"t":"2011-08","d":0.0556,"e":0.0525,"f":0.0470,"D":0.0556,"E":0.0530,"F":0.0474},
{"t":"2011-09","d":0.0600,"e":0.0570,"f":0.0468,"D":0.0585,"E":0.0565,"F":0.0467},
{"t":"2011-10","d":0.0720,"e":0.0630,"f":0.0478,"D":0.0650,"E":0.0615,"F":0.0478},
{"t":"2011-11","d":0.0735,"e":0.0691,"f":0.0495,"D":0.0790,"E":0.0675,"F":0.0497},
{"t":"2011-12","d":0.0936,"e":0.0680,"f":0.0495,"D":0.0907,"E":0.0695,"F":0.0508},
{"t":"2012-01","d":0.0765,"e":0.0640,"f":0.0490,"D":0.0868,"E":0.0642,"F":0.0504},
{"t":"2012-02","d":0.0765,"e":0.0595,"f":0.0475,"D":0.0745,"E":0.0590,"F":0.0482},
{"t":"2012-03","d":0.0640,"e":0.0550,"f":0.0470,"D":0.0640,"E":0.0545,"F":0.0472},
{"t":"2012-04","d":0.0570,"e":0.0525,"f":0.0485,"D":0.0578,"E":0.0523,"F":0.0488},
{"t":"2012-05","d":0.0548,"e":0.0532,"f":0.0495,"D":0.0556,"E":0.0535,"F":0.0503},
{"t":"2012-06","d":0.0545,"e":0.0510,"f":0.0510,"D":0.0549,"E":0.0515,"F":0.0507},
{"t":"2012-07","d":0.0550,"e":0.0500,"f":0.0505,"D":0.0549,"E":0.0513,"F":0.0493},
{"t":"2012-08","d":0.0560,"e":0.0528,"f":0.0478,"D":0.0556,"E":0.0530,"F":0.0474},
{"t":"2012-09","d":0.0600,"e":0.0575,"f":0.0458,"D":0.0585,"E":0.0565,"F":0.0467},
{"t":"2012-10","d":0.0700,"e":0.0635,"f":0.0470,"D":0.0650,"E":0.0615,"F":0.0478},
{"t":"2012-11","d":0.0830,"e":0.0690,"f":0.0495,"D":0.0790,"E":0.0675,"F":0.0497},
{"t":"2012-12","d":0.0925,"e":0.0708,"f":0.0510,"D":0.0907,"E":0.0695,"F":0.0508},
{"t":"2013-01","d":0.0860,"e":0.0640,"f":0.0505,"D":0.0868,"E":0.0642,"F":0.0504},
{"t":"2013-02","d":0.0705,"e":0.0595,"f":0.0482,"D":0.0745,"E":0.0590,"F":0.0482},
{"t":"2013-03","d":0.0620,"e":0.0555,"f":0.0470,"D":0.0640,"E":0.0545,"F":0.0472},
{"t":"2013-04","d":0.0568,"e":0.0520,"f":0.0480,"D":0.0578,"E":0.0523,"F":0.0488},
{"t":"2013-05","d":0.0550,"e":0.0518,"f":0.0492,"D":0.0556,"E":0.0535,"F":0.0503},
{"t":"2013-06","d":0.0548,"e":0.0530,"f":0.0497,"D":0.0549,"E":0.0515,"F":0.0507},
{"t":"2013-07","d":0.0552,"e":0.0525,"f":0.0490,"D":0.0549,"E":0.0513,"F":0.0493},
{"t":"2013-08","d":0.0560,"e":0.0530,"f":0.0472,"D":0.0556,"E":0.0530,"F":0.0474},
{"t":"2013-09","d":0.0610,"e":0.0568,"f":0.0465,"D":0.0585,"E":0.0565,"F":0.0467},
{"t":"2013-10","d":0.0852,"e":0.0625,"f":0.0475,"D":0.0650,"E":0.0615,"F":0.0478},
{"t":"2013-11","d":0.0715,"e":0.0690,"f":0.0490,"D":0.0790,"E":0.0675,"F":0.0497},
{"t":"2013-12","d":0.1023,"e":0.0688,"f":0.0500,"D":0.0907,"E":0.0695,"F":0.0508},
{"t":"2014-01","d":0.0880,"e":0.0645,"f":0.0492,"D":0.0868,"E":0.0642,"F":0.0504},
{"t":"2014-02","d":0.0720,"e":0.0590,"f":0.0475,"D":0.0745,"E":0.0590,"F":0.0482},
{"t":"2014-03","d":0.0630,"e":0.0545,"f":0.0472,"D":0.0640,"E":0.0545,"F":0.0472},
{"t":"2014-04","d":0.0570,"e":0.0520,"f":0.0485,"D":0.0578,"E":0.0523,"F":0.0488},
{"t":"2014-05","d":0.0552,"e":0.0530,"f":0.0500,"D":0.0556,"E":0.0535,"F":0.0503},
{"t":"2014-06","d":0.0550,"e":0.0508,"f":0.0515,"D":0.0549,"E":0.0515,"F":0.0507},
{"t":"2014-07","d":0.0552,"e":0.0507,"f":0.0485,"D":0.0549,"E":0.0513,"F":0.0493},
{"t":"2014-08","d":0.0560,"e":0.0525,"f":0.0470,"D":0.0556,"E":0.0530,"F":0.0474},
{"t":"2014-09","d":0.0600,"e":0.0570,"f":0.0465,"D":0.0585,"E":0.0565,"F":0.0467},
{"t":"2014-10","d":0.0690,"e":0.0630,"f":0.0478,"D":0.0650,"E":0.0615,"F":0.0478},
{"t":"2014-11","d":0.0830,"e":0.0696,"f":0.0495,"D":0.0790,"E":0.0675,"F":0.0497},
{"t":"2014-12","d":0.0935,"e":0.0680,"f":0.0505,"D":0.0907,"E":0.0695,"F":0.0508},
{"t":"2015-01","d":0.0925,"e":0.0620,"f":0.0495,"D":0.0868,"E":0.0642,"F":0.0504},
{"t":"2015-02","d":0.0912,"e":0.0590,"f":0.0475,"D":0.0745,"E":0.0590,"F":0.0482},
{"t":"2015-03","d":0.0700,"e":0.0552,"f":0.0472,"D":0.0640,"E":0.0545,"F":0.0472},
{"t":"2015-04","d":0.0590,"e":0.0548,"f":0.0490,"D":0.0578,"E":0.0523,"F":0.0488},
{"t":"2015-05","d":0.0552,"e":0.0520,"f":0.0535,"D":0.0556,"E":0.0535,"F":0.0503},
{"t":"2015-06","d":0.0549,"e":0.0493,"f":0.0530,"D":0.0549,"E":0.0515,"F":0.0507},
{"t":"2015-07","d":0.0550,"e":0.0505,"f":0.0505,"D":0.0549,"E":0.0513,"F":0.0493},
{"t":"2015-08","d":0.0560,"e":0.0540,"f":0.0483,"D":0.0556,"E":0.0530,"F":0.0474},
{"t":"2015-09","d":0.0620,"e":0.0590,"f":0.0485,"D":0.0585,"E":0.0565,"F":0.0467},
{"t":"2015-10","d":0.0730,"e":0.0650,"f":0.0495,"D":0.0650,"E":0.0615,"F":0.0478},
{"t":"2015-11","d":0.0860,"e":0.0700,"f":0.0510,"D":0.0790,"E":0.0675,"F":0.0497},
{"t":"2015-12","d":0.1060,"e":0.0733,"f":0.0558,"D":0.0907,"E":0.0695,"F":0.0508}
],
"blueI":[{"t":"1983-07","v":0.055},{"t":"2009-12","v":0.055}],
"blueC":[{"t":"2001-01","v":0.055},{"t":"2015-12","v":0.055}]
},
"concat":[
{"width":555,"height":221,"data":{"name":"isccp"},
 "title":{"text":"(a)","anchor":"start","frame":"group","fontSize":20,"baseline":"alphabetic","offset":-31.5},
 "resolve":{"axis":{"x":"independent","y":"independent"}},
 "layer":[
  {"mark":{"type":"line","color":"#000000","strokeWidth":2.2},"encoding":{"x":{"field":"t","type":"temporal","scale":{"domain":[{"year":1982,"month":3,"date":5},{"year":2011,"month":3,"date":27}]},"axis":null},"y":{"field":"a","type":"quantitative","scale":{"domain":[0.05,0.11],"nice":false,"zero":false},"axis":{"values":[0.05,0.06,0.07,0.08,0.09,0.1,0.11],"format":".2f","title":"α"}}}},
  {"mark":{"type":"line","color":"#ff0000","strokeWidth":2.2},"encoding":{"x":{"field":"t","type":"temporal","scale":{"domain":[{"year":1982,"month":3,"date":5},{"year":2011,"month":3,"date":27}]},"axis":{"orient":"top","title":"Papa ISCCP","labels":false,"ticks":false,"domain":false,"titleFontSize":18.3,"titlePadding":6,"titleBaseline":"alphabetic"}},"y":{"field":"A","type":"quantitative","axis":null}}}
 ]},
{"width":555,"height":221,"data":{"name":"ceres"},
 "title":{"text":"(d)","anchor":"start","frame":"group","fontSize":20,"baseline":"alphabetic","offset":-31.5},
 "resolve":{"axis":{"x":"independent","y":"independent"}},
 "layer":[
  {"mark":{"type":"line","color":"#000000","strokeWidth":2.2},"encoding":{"x":{"field":"t","type":"temporal","scale":{"domain":[{"year":2000,"month":4,"date":3},{"year":2016,"month":8,"date":29}]},"axis":null},"y":{"field":"d","type":"quantitative","scale":{"domain":[0.05,0.11],"nice":false,"zero":false},"axis":{"values":[0.05,0.06,0.07,0.08,0.09,0.1,0.11],"format":".2f","title":null}}}},
  {"mark":{"type":"line","color":"#ff0000","strokeWidth":2.2},"encoding":{"x":{"field":"t","type":"temporal","scale":{"domain":[{"year":2000,"month":4,"date":3},{"year":2016,"month":8,"date":29}]},"axis":{"orient":"top","title":"Papa CERES","labels":false,"ticks":false,"domain":false,"titleFontSize":18.3,"titlePadding":6,"titleBaseline":"alphabetic"}},"y":{"field":"D","type":"quantitative","axis":null}}}
 ]},
{"width":555,"height":221,"data":{"name":"isccp"},
 "title":{"text":"(b)","anchor":"start","frame":"group","fontSize":20,"baseline":"alphabetic","offset":-31.5},
 "resolve":{"axis":{"x":"independent","y":"independent"}},
 "layer":[
  {"mark":{"type":"line","color":"#000000","strokeWidth":2.2},"encoding":{"x":{"field":"t","type":"temporal","scale":{"domain":[{"year":1982,"month":3,"date":5},{"year":2011,"month":3,"date":27}]},"axis":null},"y":{"field":"b","type":"quantitative","scale":{"domain":[0.048,0.08],"nice":false,"zero":false},"axis":{"values":[0.05,0.055,0.06,0.065,0.07,0.075,0.08],"format":".3f","title":"α"}}}},
  {"mark":{"type":"line","color":"#ff0000","strokeWidth":2.2},"encoding":{"x":{"field":"t","type":"temporal","scale":{"domain":[{"year":1982,"month":3,"date":5},{"year":2011,"month":3,"date":27}]},"axis":{"orient":"top","title":"KEO ISCCP","labels":false,"ticks":false,"domain":false,"titleFontSize":18.3,"titlePadding":6,"titleBaseline":"alphabetic"}},"y":{"field":"B","type":"quantitative","axis":null}}}
 ]},
{"width":555,"height":221,"data":{"name":"ceres"},
 "title":{"text":"(e)","anchor":"start","frame":"group","fontSize":20,"baseline":"alphabetic","offset":-31.5},
 "resolve":{"axis":{"x":"independent","y":"independent"}},
 "layer":[
  {"mark":{"type":"line","color":"#000000","strokeWidth":2.2},"encoding":{"x":{"field":"t","type":"temporal","scale":{"domain":[{"year":2000,"month":4,"date":3},{"year":2016,"month":8,"date":29}]},"axis":null},"y":{"field":"e","type":"quantitative","scale":{"domain":[0.048,0.08],"nice":false,"zero":false},"axis":{"values":[0.05,0.055,0.06,0.065,0.07,0.075,0.08],"format":".3f","title":null}}}},
  {"mark":{"type":"line","color":"#ff0000","strokeWidth":2.2},"encoding":{"x":{"field":"t","type":"temporal","scale":{"domain":[{"year":2000,"month":4,"date":3},{"year":2016,"month":8,"date":29}]},"axis":{"orient":"top","title":"KEO CERES","labels":false,"ticks":false,"domain":false,"titleFontSize":18.3,"titlePadding":6,"titleBaseline":"alphabetic"}},"y":{"field":"E","type":"quantitative","axis":null}}}
 ]},
{"width":555,"height":221,"data":{"name":"isccp"},
 "title":{"text":"(c)","anchor":"start","frame":"group","fontSize":20,"baseline":"alphabetic","offset":-31.5},
 "resolve":{"axis":{"x":"independent","y":"independent"}},
 "layer":[
  {"mark":{"type":"line","color":"#000000","strokeWidth":2.2},"encoding":{"x":{"field":"t","type":"temporal","scale":{"domain":[{"year":1982,"month":3,"date":5},{"year":2011,"month":3,"date":27}]},"axis":{"orient":"bottom","values":[{"year":1985},{"year":1989},{"year":1993},{"year":1997},{"year":2001},{"year":2005},{"year":2009}],"format":"%Y","labelAngle":-30,"labelAlign":"right","labelBaseline":"top","labelOffset":-8,"title":"time","titlePadding":2}},"y":{"field":"c","type":"quantitative","scale":{"domain":[0.045,0.07],"nice":false,"zero":false},"axis":{"values":[0.045,0.05,0.055,0.06,0.065,0.07],"format":".3f","title":"α"}}}},
  {"mark":{"type":"line","color":"#ff0000","strokeWidth":2.2},"encoding":{"x":{"field":"t","type":"temporal","scale":{"domain":[{"year":1982,"month":3,"date":5},{"year":2011,"month":3,"date":27}]},"axis":{"orient":"top","title":"TAO ISCCP","labels":false,"ticks":false,"domain":false,"titleFontSize":18.3,"titlePadding":6,"titleBaseline":"alphabetic"}},"y":{"field":"C","type":"quantitative","axis":null}}},
  {"data":{"name":"blueI"},"mark":{"type":"line","color":"#0000ff","strokeWidth":2.2},"encoding":{"x":{"field":"t","type":"temporal","scale":{"domain":[{"year":1982,"month":3,"date":5},{"year":2011,"month":3,"date":27}]},"axis":null},"y":{"field":"v","type":"quantitative","axis":null}}}
 ]},
{"width":555,"height":221,"data":{"name":"ceres"},
 "title":{"text":"(f)","anchor":"start","frame":"group","fontSize":20,"baseline":"alphabetic","offset":-31.5},
 "resolve":{"axis":{"x":"independent","y":"independent"}},
 "layer":[
  {"mark":{"type":"line","color":"#000000","strokeWidth":2.2},"encoding":{"x":{"field":"t","type":"temporal","scale":{"domain":[{"year":2000,"month":4,"date":3},{"year":2016,"month":8,"date":29}]},"axis":{"orient":"bottom","values":[{"year":2001},{"year":2003},{"year":2005},{"year":2007},{"year":2009},{"year":2011},{"year":2013},{"year":2015}],"format":"%Y","labelAngle":-30,"labelAlign":"right","labelBaseline":"top","labelOffset":-8,"title":"time","titlePadding":2}},"y":{"field":"f","type":"quantitative","scale":{"domain":[0.045,0.07],"nice":false,"zero":false},"axis":{"values":[0.045,0.05,0.055,0.06,0.065,0.07],"format":".3f","title":null}}}},
  {"mark":{"type":"line","color":"#ff0000","strokeWidth":2.2},"encoding":{"x":{"field":"t","type":"temporal","scale":{"domain":[{"year":2000,"month":4,"date":3},{"year":2016,"month":8,"date":29}]},"axis":{"orient":"top","title":"TAO CERES","labels":false,"ticks":false,"domain":false,"titleFontSize":18.3,"titlePadding":6,"titleBaseline":"alphabetic"}},"y":{"field":"F","type":"quantitative","axis":null}}},
  {"data":{"name":"blueC"},"mark":{"type":"line","color":"#0000ff","strokeWidth":2.2},"encoding":{"x":{"field":"t","type":"temporal","scale":{"domain":[{"year":2000,"month":4,"date":3},{"year":2016,"month":8,"date":29}]},"axis":null},"y":{"field":"v","type":"quantitative","axis":null}}}
 ]}
],
"columns":2,
"spacing":{"row":39,"column":56},
"bounds":"flush",
"config":{
 "font":"DejaVu Sans",
 "view":{"stroke":"#000000","strokeWidth":1.2},
 "axis":{"grid":false,"domain":false,"tickColor":"#000000","tickWidth":1.2,"tickSize":5.35,"labelColor":"#000000","labelFont":"DejaVu Sans","labelFontSize":15.3,"labelPadding":5.35,"titleColor":"#000000","titleFont":"DejaVu Sans","titleFontSize":15.3,"titleFontWeight":"normal","labelOverlap":false,"labelFlush":false},
 "axisY":{"titlePadding":6.5},
 "title":{"font":"DejaVu Sans","fontWeight":"normal","color":"#000000"},
 "line":{"strokeJoin":"round"}
}
}
